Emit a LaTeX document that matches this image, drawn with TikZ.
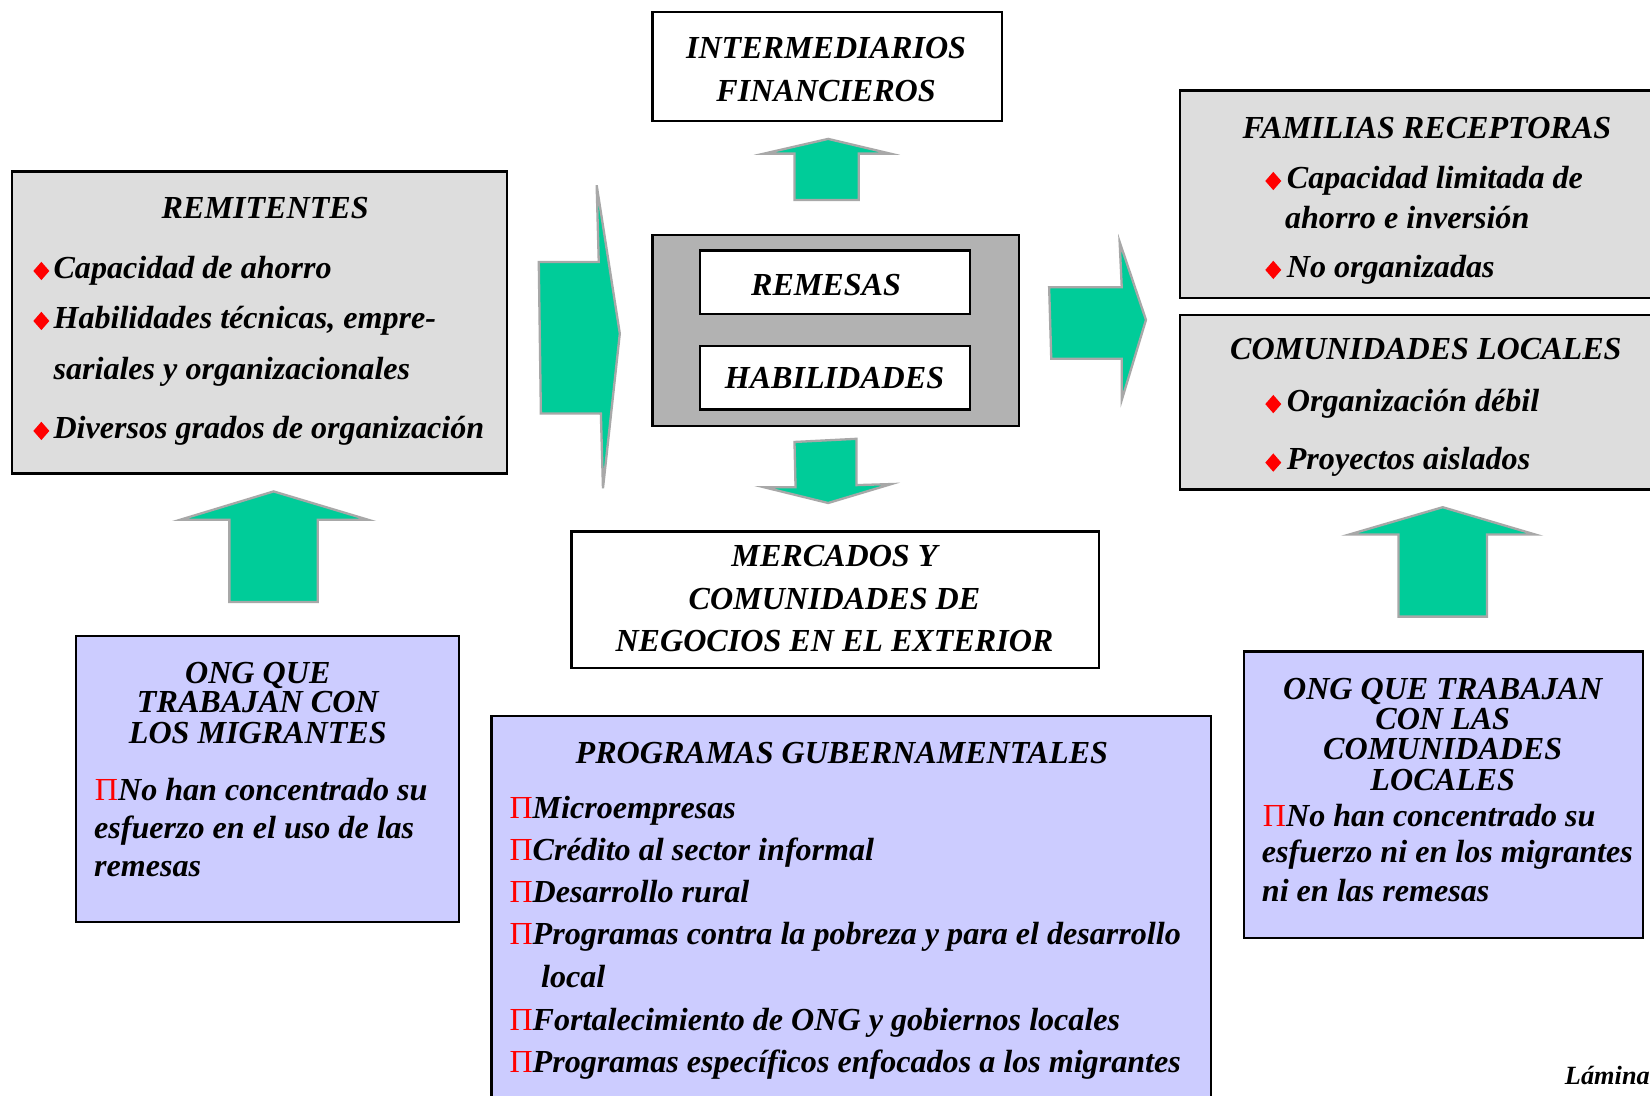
\documentclass[tikz,border=0pt]{standalone}
\usepackage{fontspec}
\setmainfont{Liberation Serif}
\definecolor{boxgray}{HTML}{DDDDDD}
\definecolor{midgray}{HTML}{B2B2B2}
\definecolor{lav}{HTML}{CCCCFF}
\definecolor{arrgreen}{HTML}{00CC99}
\definecolor{arredge}{HTML}{A8A8A8}
\newcommand\pib{{\color{red}\upshape\mdseries Π}}
\begin{document}
\begin{tikzpicture}[x=1pt,y=-1pt,
  box/.style={draw=black, line width=2.2pt, inner sep=0pt, anchor=north west},
  gbox/.style={box, fill=boxgray},
  wbox/.style={box, fill=white},
  lbox/.style={box, fill=lav},
  mbox/.style={box, fill=midgray},
  fatarrow/.style={fill=arrgreen, draw=arredge, line width=2.2pt, line join=miter},
  txt/.style={font=\fontsize{30.5}{30.5}\selectfont\bfseries\itshape, inner sep=0pt, anchor=base},
  ltxt/.style={txt, anchor=base west},
  bul/.pic={\fill[red] (0,-8.7) -- (7.6,0) -- (0,8.7) -- (-7.6,0) -- cycle;}
]
\useasboundingbox (0,0) rectangle (1568,1041);
\fill[white] (0,0) rectangle (1568,1041);

% boxes
\node[wbox, minimum width=332, minimum height=104] (inter) at (619,10) {};
\node[mbox, minimum width=348, minimum height=182] (centro) at (619,222) {};
\node[wbox, minimum width=257, minimum height=60] (rembox) at (664,237) {};
\node[wbox, minimum width=257, minimum height=60] (habbox) at (664,328) {};
\node[wbox, minimum width=501, minimum height=130] (merc) at (542,504) {};
\node[gbox, minimum width=471, minimum height=287] (remit) at (10,162) {};
\node[gbox, minimum width=470, minimum height=197] (fam) at (1120,85) {};
\node[gbox, minimum width=470, minimum height=166] (com) at (1120,298) {};
\node[lbox, minimum width=364, minimum height=272] (ongm) at (71,603) {};
\node[lbox, minimum width=379, minimum height=272] (ongc) at (1181,618) {};
\node[lbox, minimum width=684, minimum height=390] (prog) at (466,679) {};

% block arrows
\path[fatarrow] (755,190) -- (755,146) -- (726,146) -- (787,132) -- (846,146) -- (816,146) -- (816,190) -- cycle;
\path[fatarrow] (755,420) -- (814,417) -- (814,461) -- (847,460) -- (787,478) -- (726,463) -- (756,463) -- cycle;
\path[fatarrow] (512,249) -- (569,249) -- (567,176) -- (589,317) -- (573,464) -- (571,393) -- (514,393) -- cycle;
\path[fatarrow] (997,273) -- (1066,273) -- (1064,230) -- (1089,304) -- (1066,380) -- (1066,341) -- (999,341) -- cycle;
\path[fatarrow] (218,572) -- (218,494) -- (171,494) -- (260,467) -- (350,494) -- (302,494) -- (302,572) -- cycle;
\path[fatarrow] (1329,586) -- (1329,508) -- (1282,508) -- (1371,482) -- (1459,508) -- (1413,508) -- (1413,586) -- cycle;

% center texts
\node[txt] (int1) at (785,56) {INTERMEDIARIOS};
\node[txt] (int2) at (785,96) {FINANCIEROS};
\node[txt] (remt) at (785,281) {REMESAS};
\node[txt] (habt) at (793,369) {HABILIDADES};
\node[txt] (mer1) at (793,538) {MERCADOS Y};
\node[txt] (mer2) at (793,579) {COMUNIDADES DE};
\node[txt] (mer3) at (793,619) {NEGOCIOS EN EL EXTERIOR};

% remitentes
\node[txt] (rt) at (252,208) {REMITENTES};
\pic at (39.3,257.5) {bul};
\node[ltxt] (r1) at (50.7,264.5) {Capacidad de ahorro};
\pic at (39.3,305) {bul};
\node[ltxt] (r2) at (50.7,312) {Habilidades técnicas, empre-};
\node[ltxt] (r3) at (50.7,361) {sariales y organizacionales};
\pic at (39.3,409.5) {bul};
\node[ltxt] (r4) at (50.7,416.5) {Diversos grados de organización};

% familias
\node[txt] (ft) at (1356,132) {FAMILIAS RECEPTORAS};
\pic at (1210,172) {bul};
\node[ltxt] (f1) at (1222.7,179) {Capacidad limitada de};
\node[ltxt] (f2) at (1221,217) {ahorro e inversión};
\pic at (1210,256.5) {bul};
\node[ltxt] (f3) at (1222.7,263.5) {No organizadas};

% comunidades
\node[txt] (ct) at (1355,342) {COMUNIDADES LOCALES};
\pic at (1210,384) {bul};
\node[ltxt] (c1) at (1222.7,391) {Organización débil};
\pic at (1210,439.6) {bul};
\node[ltxt] (c2) at (1222.7,446.6) {Proyectos aislados};

% ONG migrantes
\node[txt] (om1) at (245,649.5) {ONG QUE};
\node[txt] (om2) at (245,677) {TRABAJAN CON};
\node[txt] (om3) at (245,707) {LOS MIGRANTES};
\node[ltxt] (omb1) at (90,761) {\pib No han concentrado su};
\node[ltxt] (omb2) at (89.3,797) {esfuerzo en el uso de las};
\node[ltxt] (omb3) at (89.3,832.6) {remesas};

% ONG comunidades
\node[txt] (oc1) at (1371,665) {ONG QUE TRABAJAN};
\node[txt] (oc2) at (1371,693.5) {CON LAS};
\node[txt] (oc3) at (1371,722) {COMUNIDADES};
\node[txt] (oc4) at (1371,751) {LOCALES};
\node[ltxt] (ocb1) at (1200,785) {\pib No han concentrado su};
\node[ltxt] (ocb2) at (1199,820) {esfuerzo ni en los migrantes};
\node[ltxt] (ocb3) at (1199,857) {ni en las remesas};

% programas
\node[txt] (pt) at (800,725.4) {PROGRAMAS GUBERNAMENTALES};
\node[ltxt] (p1) at (484,778) {\pib Microempresas};
\node[ltxt] (p2) at (484,818) {\pib Crédito al sector informal};
\node[ltxt] (p3) at (484,858) {\pib Desarrollo rural};
\node[ltxt] (p4) at (484,898) {\pib Programas contra la pobreza y para el desarrollo};
\node[ltxt] (p5) at (514,938) {local};
\node[ltxt] (p6) at (484,979) {\pib Fortalecimiento de ONG y gobiernos locales};
\node[ltxt] (p7) at (484,1019) {\pib Programas específicos enfocados a los migrantes};

\node[ltxt, font=\fontsize{25}{25}\selectfont\bfseries\itshape] (lam) at (1487,1031) {Lámina};
\end{tikzpicture}
\end{document}
